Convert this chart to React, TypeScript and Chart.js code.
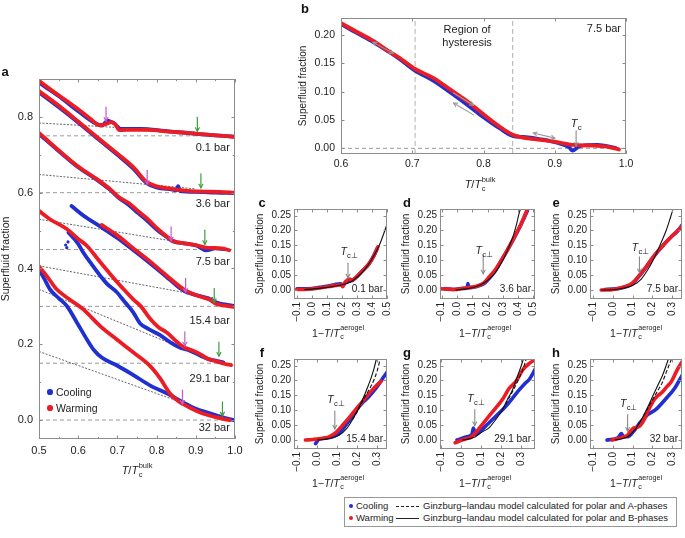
import React, { useEffect, useRef } from 'react';
import { Chart, registerables } from 'chart.js';
Chart.register(...registerables);

type P = [number, number][];
const FONT = "'Liberation Sans', Arial, Helvetica, sans-serif";
const RED = '#ec1c24';
const BLUE = '#1f2fd0';
const INK = '#222';

// ---------------- Panel a data ----------------
const aXTicks = [0.5, 0.55, 0.6, 0.65, 0.7, 0.75, 0.8, 0.85, 0.9, 0.95, 1.0];
const aXLabels = ['0.5', '', '0.6', '', '0.7', '', '0.8', '', '0.9', '', '1.0'];
const aYTicks = [0, 0.1, 0.2, 0.3, 0.4, 0.5, 0.6, 0.7, 0.8];
const aYLabels = ['0.0', '', '0.2', '', '0.4', '', '0.6', '', '0.8'];
const aPressures = ['0.1 bar', '3.6 bar', '7.5 bar', '15.4 bar', '29.1 bar', '32 bar'];
const aBaselines = [0.75, 0.6, 0.45, 0.3, 0.15, 0.0];
const aLabelY = [0.718, 0.57, 0.418, 0.261, 0.108, -0.021];
const aGreenX = [0.904, 0.913, 0.923, 0.947, 0.959, 0.968];
const aGreenY = [0.762, 0.613, 0.464, 0.31, 0.169, 0.011];
const aPurpleX = [0.671, 0.776, 0.837, 0.874, 0.872, 0.866];
const aPurpleY = [0.789, 0.622, 0.473, 0.337, 0.196, 0.042];
const aGuides: P[] = [
  [[0.5, 0.784], [0.9, 0.76]],
  [[0.5, 0.648], [0.9, 0.61]],
  [[0.5, 0.53], [0.92, 0.459]],
  [[0.5, 0.407], [0.95, 0.3215]],
  [[0.5, 0.345], [0.93, 0.162]],
  [[0.5, 0.181], [0.96, 0.011]],
];
const a01Warming: P = [[0.5, 0.895], [0.53, 0.872], [0.56, 0.85], [0.6, 0.82], [0.63, 0.796], [0.655, 0.778], [0.67, 0.781], [0.685, 0.786], [0.695, 0.78], [0.705, 0.765], [0.74, 0.766], [0.78, 0.766], [0.83, 0.761], [0.88, 0.758], [0.93, 0.753], [0.97, 0.75], [1.0, 0.747]];
const a01Cooling: P = [[0.5, 0.89], [0.55, 0.855], [0.6, 0.815], [0.64, 0.785], [0.66, 0.777], [0.675, 0.79], [0.69, 0.784], [0.71, 0.768], [0.76, 0.768], [0.82, 0.763], [0.88, 0.757], [0.94, 0.752], [1.0, 0.748]];
const a36Warming: P = [[0.5, 0.868], [0.55, 0.83], [0.6, 0.788], [0.65, 0.745], [0.7, 0.703], [0.74, 0.668], [0.775, 0.628], [0.8, 0.617], [0.84, 0.61], [0.88, 0.605], [0.92, 0.603], [0.96, 0.602], [1.0, 0.6]];
const a36Cooling: P = [[0.5, 0.865], [0.55, 0.826], [0.6, 0.785], [0.65, 0.742], [0.7, 0.7], [0.74, 0.664], [0.775, 0.625], [0.8, 0.614], [0.84, 0.608], [0.85, 0.606], [0.855, 0.617], [0.86, 0.604], [0.9, 0.602], [0.95, 0.6], [1.0, 0.599]];
const a75Warming: P = [[0.5, 0.758], [0.55, 0.712], [0.6, 0.669], [0.646, 0.637], [0.683, 0.608], [0.704, 0.588], [0.73, 0.572], [0.753, 0.551], [0.777, 0.531], [0.8, 0.507], [0.823, 0.487], [0.841, 0.473], [0.856, 0.469], [0.88, 0.465], [0.903, 0.461], [0.926, 0.455], [0.95, 0.454], [0.973, 0.452], [0.985, 0.448]];
const a75Cooling: P = [[0.5, 0.755], [0.55, 0.71], [0.6, 0.667], [0.646, 0.635], [0.683, 0.606], [0.704, 0.586], [0.73, 0.567], [0.753, 0.546], [0.777, 0.525], [0.8, 0.503], [0.823, 0.485], [0.841, 0.472], [0.856, 0.468], [0.88, 0.465], [0.903, 0.46], [0.926, 0.448], [0.95, 0.453], [0.973, 0.451]];
const a154Warming: P = [[0.66, 0.515], [0.699, 0.488], [0.741, 0.453], [0.784, 0.418], [0.826, 0.381], [0.872, 0.343], [0.89, 0.334], [0.911, 0.326], [0.935, 0.318], [0.953, 0.306], [0.975, 0.302], [1.0, 0.298]];
const a154Cooling: P = [[0.583, 0.565], [0.613, 0.54], [0.656, 0.511], [0.699, 0.481], [0.741, 0.448], [0.784, 0.413], [0.826, 0.377], [0.85, 0.356], [0.872, 0.34], [0.89, 0.333], [0.911, 0.327], [0.93, 0.322], [0.953, 0.31], [0.975, 0.305], [0.996, 0.301]];
const a291Warming: P = [[0.5, 0.552], [0.528, 0.53], [0.571, 0.504], [0.6, 0.478], [0.622, 0.46], [0.656, 0.417], [0.682, 0.385], [0.716, 0.345], [0.741, 0.318], [0.76, 0.3], [0.783, 0.268], [0.805, 0.245], [0.826, 0.231], [0.85, 0.208], [0.868, 0.193], [0.89, 0.184], [0.911, 0.174], [0.93, 0.162], [0.953, 0.155], [0.975, 0.148], [0.99, 0.145]];
const a291Cooling: P = [[0.575, 0.495], [0.6, 0.465], [0.613, 0.442], [0.635, 0.41], [0.656, 0.381], [0.673, 0.36], [0.698, 0.338], [0.72, 0.31], [0.74, 0.285], [0.758, 0.255], [0.78, 0.24], [0.809, 0.224], [0.835, 0.205], [0.86, 0.191], [0.885, 0.183], [0.911, 0.17], [0.935, 0.16], [0.953, 0.156], [0.97, 0.152]];
const a291CoolingStray: P = [[0.568, 0.462], [0.571, 0.455], [0.574, 0.47]];
const a32Warming: P = [[0.5, 0.405], [0.52, 0.38], [0.545, 0.345], [0.58, 0.317], [0.613, 0.292], [0.656, 0.248], [0.698, 0.213], [0.741, 0.178], [0.783, 0.143], [0.809, 0.11], [0.834, 0.07], [0.855, 0.05], [0.868, 0.042], [0.89, 0.03], [0.911, 0.02], [0.935, 0.012], [0.953, 0.007], [0.975, 0.002], [0.987, 0.0]];
const a32Cooling: P = [[0.5, 0.398], [0.515, 0.37], [0.528, 0.345], [0.55, 0.322], [0.571, 0.301], [0.597, 0.257], [0.622, 0.213], [0.64, 0.185], [0.66, 0.165], [0.699, 0.144], [0.742, 0.118], [0.784, 0.091], [0.827, 0.07], [0.869, 0.046], [0.9, 0.03], [0.93, 0.02], [0.954, 0.012], [0.975, 0.005], [0.996, 0.0]];

// ---------------- Panel b data ----------------
const bXTicks = [0.6, 0.7, 0.8, 0.9, 1.0];
const bXLabels = ['0.6', '0.7', '0.8', '0.9', '1.0'];
const bYTicks = [0, 0.05, 0.1, 0.15, 0.2];
const bYLabels = ['0.00', '0.05', '0.10', '0.15', '0.20'];
const bHysteresis = [0.704, 0.841];
const bWarming: P = [[0.6, 0.221], [0.62, 0.207], [0.646, 0.189], [0.665, 0.173], [0.683, 0.159], [0.704, 0.14], [0.73, 0.124], [0.753, 0.104], [0.777, 0.083], [0.8, 0.06], [0.823, 0.038], [0.841, 0.024], [0.856, 0.019], [0.88, 0.015], [0.903, 0.011], [0.926, 0.006], [0.95, 0.005], [0.973, 0.003], [0.99, -0.002]];
const bCooling: P = [[0.602, 0.218], [0.62, 0.205], [0.646, 0.187], [0.665, 0.172], [0.683, 0.157], [0.704, 0.137], [0.73, 0.119], [0.753, 0.099], [0.777, 0.077], [0.8, 0.055], [0.823, 0.035], [0.841, 0.022], [0.856, 0.02], [0.88, 0.016], [0.903, 0.01], [0.92, 0.002], [0.925, -0.004], [0.935, 0.004], [0.96, 0.006], [0.985, 0.001]];
// double arrows: x1, y1, x2, y2, headAtStart, headAtEnd
const bArrows: [number, number, number, number, boolean, boolean][] = [
  [0.645, 0.187, 0.673, 0.168, true, true],
  [0.758, 0.0975, 0.786, 0.076, false, true],
  [0.758, 0.08, 0.786, 0.059, true, false],
  [0.87, 0.027, 0.9, 0.018, true, true],
];

// ---------------- Panels c–h data ----------------
const sYTicks = [0, 0.05, 0.1, 0.15, 0.2, 0.25];
const sYLabels = ['0.00', '0.05', '0.10', '0.15', '0.20', '0.25'];
const wideXTicks = [-0.1, 0, 0.1, 0.2, 0.3, 0.4, 0.5];
const wideXLabels = ['\u22120.1', '0.0', '0.1', '0.2', '0.3', '0.4', '0.5'];
const narrowXTicks = [-0.1, 0, 0.1, 0.2, 0.3];
const narrowXLabels = ['\u22120.1', '0.0', '0.1', '0.2', '0.3'];

const cWarming: P = [[-0.1, 0.002], [-0.05, 0.002], [0.0, 0.004], [0.05, 0.007], [0.1, 0.011], [0.156, 0.015], [0.196, 0.018], [0.205, 0.011], [0.215, 0.022], [0.235, 0.033], [0.25, 0.037], [0.267, 0.034], [0.296, 0.044], [0.333, 0.063], [0.378, 0.087], [0.411, 0.113], [0.44, 0.145]];
const cCooling: P = [[-0.1, 0.004], [-0.05, 0.004], [0.0, 0.005], [0.05, 0.009], [0.1, 0.013], [0.15, 0.018], [0.19, 0.021], [0.21, 0.016], [0.22, 0.024], [0.245, 0.03], [0.267, 0.032], [0.3, 0.045], [0.335, 0.064], [0.38, 0.088], [0.41, 0.114], [0.435, 0.14]];
const cModelB: P = [[-0.05, 0.002], [0.0, 0.003], [0.1, 0.009], [0.2, 0.018], [0.25, 0.025], [0.3, 0.043], [0.35, 0.068], [0.4, 0.104], [0.45, 0.152], [0.5, 0.22]];

const dWarming: P = [[-0.1, 0.004], [-0.05, 0.003], [-0.012, 0.002], [0.03, 0.005], [0.072, 0.008], [0.121, 0.012], [0.176, 0.024], [0.209, 0.043], [0.253, 0.07], [0.286, 0.097], [0.33, 0.135], [0.375, 0.178], [0.419, 0.222], [0.456, 0.266]];
const dCooling: P = [[-0.08, 0.004], [-0.02, 0.002], [0.03, 0.005], [0.068, 0.007], [0.072, 0.022], [0.078, 0.008], [0.121, 0.011], [0.176, 0.021], [0.209, 0.038], [0.253, 0.066], [0.286, 0.095], [0.33, 0.134], [0.375, 0.176], [0.419, 0.22], [0.46, 0.265]];
const dModelB: P = [[-0.01, 0.0], [0.05, 0.003], [0.1, 0.008], [0.15, 0.016], [0.2, 0.032], [0.25, 0.058], [0.3, 0.1], [0.34, 0.145], [0.37, 0.185], [0.39, 0.222], [0.405, 0.255], [0.415, 0.272]];

const eWarming: P = [[-0.058, 0.0], [-0.03, 0.001], [0.0, 0.002], [0.03, 0.006], [0.06, 0.011], [0.1, 0.024], [0.135, 0.05], [0.169, 0.078], [0.203, 0.11], [0.245, 0.143], [0.287, 0.173], [0.329, 0.2], [0.35, 0.214]];
const eCooling: P = [[-0.04, 0.002], [0.0, 0.003], [0.04, 0.006], [0.08, 0.014], [0.1, 0.022], [0.135, 0.048], [0.169, 0.077], [0.203, 0.109], [0.245, 0.143], [0.29, 0.175], [0.33, 0.2], [0.35, 0.218]];
const eModelB: P = [[-0.058, 0.0], [0.0, 0.001], [0.05, 0.006], [0.1, 0.015], [0.144, 0.037], [0.177, 0.068], [0.2, 0.095], [0.228, 0.134], [0.25, 0.168], [0.27, 0.2], [0.29, 0.24], [0.305, 0.272]];

const fWarming: P = [[-0.058, 0.0], [-0.02, 0.002], [0.009, 0.004], [0.035, 0.007], [0.06, 0.011], [0.094, 0.025], [0.127, 0.049], [0.161, 0.075], [0.195, 0.104], [0.228, 0.13], [0.255, 0.152], [0.279, 0.17], [0.3, 0.185], [0.321, 0.198]];
const fCooling: P = [[-0.007, -0.012], [0.009, 0.002], [0.04, 0.006], [0.077, 0.011], [0.11, 0.022], [0.144, 0.05], [0.178, 0.08], [0.211, 0.113], [0.235, 0.13], [0.262, 0.148], [0.29, 0.17], [0.312, 0.19], [0.335, 0.213], [0.351, 0.228]];
const fModelB: P = [[0.0, 0.0], [0.05, 0.004], [0.11, 0.016], [0.15, 0.04], [0.178, 0.069], [0.205, 0.103], [0.228, 0.136], [0.25, 0.172], [0.27, 0.208], [0.285, 0.24], [0.297, 0.272]];
const fModelA: P = [[0.178, 0.069], [0.205, 0.1], [0.228, 0.13], [0.255, 0.163], [0.279, 0.193], [0.3, 0.23], [0.316, 0.272]];

const gWarming: P = [[-0.029, -0.009], [-0.01, -0.004], [0.005, 0.0], [0.03, 0.005], [0.047, 0.008], [0.072, 0.024], [0.106, 0.052], [0.14, 0.08], [0.174, 0.108], [0.207, 0.136], [0.241, 0.174], [0.275, 0.197], [0.309, 0.236], [0.343, 0.258], [0.37, 0.27]];
const gCooling: P = [[-0.02, 0.0], [0.03, 0.011], [0.055, 0.02], [0.062, 0.04], [0.072, 0.019], [0.123, 0.047], [0.174, 0.08], [0.224, 0.113], [0.258, 0.141], [0.292, 0.169], [0.32, 0.19], [0.343, 0.205], [0.376, 0.245]];
const gModelB: P = [[0.005, 0.0], [0.04, 0.004], [0.072, 0.011], [0.1, 0.025], [0.14, 0.041], [0.175, 0.07], [0.207, 0.102], [0.235, 0.14], [0.258, 0.169], [0.28, 0.21], [0.3, 0.247], [0.312, 0.272]];
const gModelA: P = [[0.207, 0.102], [0.235, 0.135], [0.258, 0.163], [0.285, 0.2], [0.309, 0.236], [0.326, 0.272]];

const hWarming: P = [[-0.005, 0.0], [0.02, 0.004], [0.043, 0.008], [0.06, 0.012], [0.075, 0.016], [0.09, 0.03], [0.106, 0.041], [0.13, 0.044], [0.154, 0.063], [0.178, 0.097], [0.21, 0.136], [0.23, 0.15], [0.249, 0.16], [0.275, 0.18], [0.297, 0.197], [0.325, 0.235], [0.352, 0.265]];
const hCooling: P = [[-0.029, 0.0], [-0.01, 0.002], [0.011, 0.004], [0.03, 0.01], [0.043, 0.022], [0.055, 0.012], [0.075, 0.011], [0.106, 0.03], [0.138, 0.058], [0.178, 0.086], [0.217, 0.102], [0.265, 0.136], [0.313, 0.174], [0.352, 0.219]];
const hModelB: P = [[0.011, 0.0], [0.05, 0.005], [0.075, 0.011], [0.114, 0.036], [0.154, 0.08], [0.18, 0.115], [0.202, 0.147], [0.225, 0.18], [0.249, 0.213], [0.27, 0.25], [0.281, 0.272]];
const hModelA: P = [[0.154, 0.08], [0.18, 0.11], [0.202, 0.136], [0.225, 0.163], [0.249, 0.191], [0.275, 0.235], [0.297, 0.272]];

// Tc-perp arrows in c–h: x, tail y, tip y, label y
const smallPressures = ['0.1 bar', '3.6 bar', '7.5 bar', '15.4 bar', '29.1 bar', '32 bar'];
const tcPerp: [number, number, number, number][] = [
  [0.24, 0.09, 0.041, 0.129],
  [0.172, 0.118, 0.055, 0.134],
  [0.135, 0.112, 0.059, 0.143],
  [0.089, 0.097, 0.038, 0.136],
  [0.069, 0.102, 0.049, 0.141],
  [0.075, 0.086, 0.03, 0.124],
];

// ---------------- helpers ----------------
const pts = (p: P) => p.map(([x, y]) => ({ x, y }));
const curve = (p: P, color: string, order: number, width = 3.8) => ({
  data: pts(p), borderColor: color, backgroundColor: color, borderWidth: width, pointRadius: 0,
  cubicInterpolationMode: 'monotone', order, fill: false, borderCapStyle: 'round', borderJoinStyle: 'round',
});
const guide = (p: P, color: string, dash: number[], width: number, order: number) => ({
  data: pts(p), borderColor: color, borderWidth: width, borderDash: dash, pointRadius: 0, order, tension: 0, fill: false,
});
const stray = (p: P, color: string, order: number) => ({
  data: pts(p), borderColor: color, backgroundColor: color, showLine: false, pointRadius: 1.6, pointBorderWidth: 0, order,
});

function arrow(ctx: any, x1: number, y1: number, x2: number, y2: number, color: string, lw: number, head: number, atStart: boolean, atEnd: boolean) {
  ctx.save();
  ctx.strokeStyle = color; ctx.lineWidth = lw; ctx.lineCap = 'round';
  ctx.beginPath(); ctx.moveTo(x1, y1); ctx.lineTo(x2, y2); ctx.stroke();
  const heads: number[][] = [];
  if (atEnd) heads.push([x2, y2, x1, y1]);
  if (atStart) heads.push([x1, y1, x2, y2]);
  for (const [tx, ty, fx, fy] of heads) {
    const ang = Math.atan2(ty - fy, tx - fx);
    ctx.beginPath();
    ctx.moveTo(tx - head * Math.cos(ang - 0.5), ty - head * Math.sin(ang - 0.5));
    ctx.lineTo(tx, ty);
    ctx.lineTo(tx - head * Math.cos(ang + 0.5), ty - head * Math.sin(ang + 0.5));
    ctx.stroke();
  }
  ctx.restore();
}

function subLabel(ctx: any, cx: number, cy: number, main: string, sub: string, size: number, color: string) {
  ctx.save();
  ctx.fillStyle = color; ctx.textBaseline = 'alphabetic'; ctx.textAlign = 'left';
  const mf = `italic ${size}px ${FONT}`; const sf = `${size * 0.72}px ${FONT}`;
  ctx.font = mf; const w1 = ctx.measureText(main).width;
  ctx.font = sf; const w2 = ctx.measureText(sub).width;
  const x0 = cx - (w1 + w2) / 2; const base = cy + size * 0.35;
  ctx.font = mf; ctx.fillText(main, x0, base);
  ctx.font = sf; ctx.fillText(sub, x0 + w1 + 0.3, base + size * 0.28);
  ctx.restore();
}

function text(ctx: any, s: string, x: number, y: number, size: number, align: string) {
  ctx.save();
  ctx.fillStyle = INK; ctx.font = `${size}px ${FONT}`; ctx.textAlign = align; ctx.textBaseline = 'middle';
  ctx.fillText(s, x, y);
  ctx.restore();
}

interface Spec {
  key: string;
  box: [number, number, number, number];
  plot: [number, number, number, number];
  xr: [number, number]; yr: [number, number];
  xTicks: number[]; xLabels: string[]; yTicks: number[]; yLabels: string[];
  rotate: boolean; tickFont: number; titleFont: number; titlePad: number; xPad: number; yPad: number;
  datasets: any[];
  annotate: (ctx: any, X: (v: number) => number, Y: (v: number) => number, a: any) => void;
}

function buildConfig(s: Spec): any {
  const [cl, ct, cw, ch] = s.box;
  const [pl, pt, pr, pb] = s.plot;
  const yW = pl - cl, xH = ct + ch - pb, padTop = pt - ct, padRight = cl + cw - pr;
  const rot = s.rotate ? 90 : 0;
  const zeroPad = (sc: any) => { sc.paddingLeft = 0; sc.paddingRight = 0; sc.paddingTop = 0; sc.paddingBottom = 0; };
  return {
    type: 'line',
    data: { datasets: s.datasets },
    options: {
      animation: false, responsive: false, maintainAspectRatio: false, devicePixelRatio: 1, events: [],
      layout: { padding: { left: 0, top: padTop, right: padRight, bottom: 0 } },
      plugins: { legend: { display: false }, tooltip: { enabled: false }, title: { display: false } },
      scales: {
        x: {
          type: 'linear', position: 'bottom', min: s.xr[0], max: s.xr[1],
          grid: { display: false, drawTicks: false, tickLength: 0 }, border: { display: false },
          ticks: { autoSkip: false, padding: s.xPad, minRotation: rot, maxRotation: rot, color: INK, font: { family: FONT, size: s.tickFont }, callback: (_v: any, i: number) => s.xLabels[i] },
          afterBuildTicks: (sc: any) => { sc.ticks = s.xTicks.map((v) => ({ value: v })); },
          afterFit: (sc: any) => { sc.height = xH; zeroPad(sc); },
        },
        y: {
          type: 'linear', position: 'left', min: s.yr[0], max: s.yr[1],
          grid: { display: false, drawTicks: false, tickLength: 0 }, border: { display: false },
          ticks: { autoSkip: false, padding: s.yPad, color: INK, font: { family: FONT, size: s.tickFont }, callback: (_v: any, i: number) => s.yLabels[i] },
          title: { display: true, text: 'Superfluid fraction', color: INK, font: { family: FONT, size: s.titleFont }, padding: { top: s.titlePad, bottom: 0 } },
          afterBuildTicks: (sc: any) => { sc.ticks = s.yTicks.map((v) => ({ value: v })); },
          afterFit: (sc: any) => { sc.width = yW; zeroPad(sc); },
        },
      },
    },
    plugins: [{
      id: 'frame_' + s.key,
      afterDatasetsDraw(chart: any) {
        const { ctx, chartArea: a, scales } = chart;
        const X = (v: number) => scales.x.getPixelForValue(v);
        const Y = (v: number) => scales.y.getPixelForValue(v);
        ctx.save();
        s.annotate(ctx, X, Y, a);
        ctx.strokeStyle = '#8c8c8c'; ctx.lineWidth = 1;
        ctx.strokeRect(a.left + 0.5, a.top + 0.5, a.right - a.left - 1, a.bottom - a.top - 1);
        ctx.beginPath();
        s.xTicks.forEach((v, i) => {
          const len = s.xLabels[i] ? 3.5 : 2.2; const px = Math.round(X(v)) + 0.5;
          ctx.moveTo(px, a.bottom); ctx.lineTo(px, a.bottom - len);
          ctx.moveTo(px, a.top); ctx.lineTo(px, a.top + len);
        });
        s.yTicks.forEach((v, i) => {
          const len = s.yLabels[i] ? 3.5 : 2.2; const py = Math.round(Y(v)) + 0.5;
          ctx.moveTo(a.left, py); ctx.lineTo(a.left + len, py);
          ctx.moveTo(a.right, py); ctx.lineTo(a.right - len, py);
        });
        ctx.stroke();
        ctx.restore();
      },
    }],
  };
}

// ---------------- panel specs ----------------
const GRAY_DASH = '#9a9a9a';

const specA: Spec = {
  key: 'a', box: [0, 60, 245, 430], plot: [39, 79, 235, 439], xr: [0.5, 1.0], yr: [-0.05, 0.9],
  xTicks: aXTicks, xLabels: aXLabels, yTicks: aYTicks, yLabels: aYLabels,
  rotate: false, tickFont: 11, titleFont: 10.5, titlePad: 0, xPad: 5, yPad: 6,
  datasets: [
    ...aBaselines.map((b) => guide([[0.5, b], [1.0, b]], GRAY_DASH, [4, 3], 1, 6)),
    ...aGuides.map((g) => guide(g, '#555', [2, 1.5], 0.9, 5)),
    curve(a01Warming, RED, 1), curve(a01Cooling, BLUE, 2),
    curve(a36Warming, RED, 1), curve(a36Cooling, BLUE, 2),
    curve(a75Warming, RED, 1), curve(a75Cooling, BLUE, 2),
    curve(a154Warming, RED, 1), curve(a154Cooling, BLUE, 2),
    curve(a291Warming, RED, 1), curve(a291Cooling, BLUE, 2), stray(a291CoolingStray, BLUE, 2),
    curve(a32Warming, RED, 1), curve(a32Cooling, BLUE, 2),
  ],
  annotate: (ctx, X, Y) => {
    aGreenX.forEach((x, i) => arrow(ctx, X(x), Y(aGreenY[i]) - 14, X(x), Y(aGreenY[i]), '#3d9e3d', 1.2, 4, false, true));
    aPurpleX.forEach((x, i) => arrow(ctx, X(x), Y(aPurpleY[i]) - 14, X(x), Y(aPurpleY[i]), '#c25bd0', 1.2, 4, false, true));
    aPressures.forEach((p, i) => text(ctx, p, X(0.987), Y(aLabelY[i]), 11, 'right'));
  },
};

const specB: Spec = {
  key: 'b', box: [290, 0, 395, 195], plot: [341, 18, 626, 154], xr: [0.6, 1.0], yr: [-0.01, 0.23],
  xTicks: bXTicks, xLabels: bXLabels, yTicks: bYTicks, yLabels: bYLabels,
  rotate: false, tickFont: 10.5, titleFont: 10, titlePad: 7, xPad: 4, yPad: 6,
  datasets: [
    guide([[0.6, 0], [1.0, 0]], GRAY_DASH, [4, 3], 1, 6),
    ...bHysteresis.map((x) => guide([[x, -0.01], [x, 0.23]], '#b0b0b0', [5, 3], 1, 6)),
    curve(bWarming, RED, 1, 3.8), curve(bCooling, BLUE, 2, 3.8),
  ],
  annotate: (ctx, X, Y) => {
    text(ctx, 'Region of', X(0.777), Y(0.209), 11, 'center');
    text(ctx, 'hysteresis', X(0.777), Y(0.186), 11, 'center');
    text(ctx, '7.5 bar', X(0.969), Y(0.21), 11, 'center');
    bArrows.forEach(([x1, y1, x2, y2, s, e]) => arrow(ctx, X(x1), Y(y1), X(x2), Y(y2), '#9a9a9a', 1.1, 4, s, e));
    arrow(ctx, X(0.93), Y(0.031), X(0.93), Y(0.004), '#8a8a8a', 1.1, 4, false, true);
    subLabel(ctx, X(0.93), Y(0.045), 'T', 'c', 11, INK);
  },
};

function smallSpec(key: string, col: number, row: number, xr: [number, number], wide: boolean, idx: number, warm: P, cool: P, modelB: P, modelA: P | null): Spec {
  const lefts = [253, 399, 549];
  const plotL = [294, 440, 590];
  const plotR = [387, 535, 682];
  const rights = [390, 539, 685];
  const top = row === 0 ? 200 : 350;
  const [tx, tTail, tTip, tLab] = tcPerp[idx];
  const ds: any[] = [curve(warm, RED, 1, 3.6), curve(cool, BLUE, 2, 3.6), guide(modelB, '#111', [], 1.1, 0)];
  if (modelA) ds.push(guide(modelA, '#111', [4, 2], 1.1, 0));
  ds.forEach((d) => { if (d.order === 0) d.cubicInterpolationMode = 'monotone'; });
  return {
    key, box: [lefts[col], top, rights[col] - lefts[col], 130], plot: [plotL[col], top + 9, plotR[col], top + 99],
    xr, yr: [-0.03, 0.272],
    xTicks: wide ? wideXTicks : narrowXTicks, xLabels: wide ? wideXLabels : narrowXLabels,
    yTicks: sYTicks, yLabels: sYLabels,
    rotate: true, tickFont: 10, titleFont: 10, titlePad: 1, xPad: 3, yPad: 3,
    datasets: ds,
    annotate: (ctx, X, Y, a) => {
      arrow(ctx, X(tx), Y(tTail), X(tx), Y(tTip), '#8a8a8a', 1.1, 4, false, true);
      subLabel(ctx, X(tx) + 1, Y(tLab), 'T', 'c\u22a5', 10.5, INK);
      text(ctx, smallPressures[idx], a.right - 4, Y(0.003), 10, 'right');
    },
  };
}

const specC = smallSpec('c', 0, 0, [-0.12, 0.5], true, 0, cWarming, cCooling, cModelB, null);
const specD = smallSpec('d', 1, 0, [-0.11, 0.51], true, 1, dWarming, dCooling, dModelB, null);
const specE = smallSpec('e', 2, 0, [-0.115, 0.35], false, 2, eWarming, eCooling, eModelB, null);
const specF = smallSpec('f', 0, 1, [-0.115, 0.35], false, 3, fWarming, fCooling, fModelB, fModelA);
const specG = smallSpec('g', 1, 1, [-0.105, 0.37], false, 4, gWarming, gCooling, gModelB, gModelA);
const specH = smallSpec('h', 2, 1, [-0.115, 0.35], false, 5, hWarming, hCooling, hModelB, hModelA);

// ---------------- components ----------------
function Panel({ spec }: { spec: Spec }) {
  const ref = useRef<HTMLCanvasElement>(null);
  useEffect(() => {
    const chart = new Chart(ref.current as HTMLCanvasElement, buildConfig(spec));
    return () => chart.destroy();
  }, []);
  const [l, t, w, h] = spec.box;
  return <canvas ref={ref} width={w} height={h} style={{ position: 'absolute', left: l, top: t, width: w, height: h }} />;
}

function XTitle({ cx, cy, prefix, sup, size = 10.5 }: { cx: number; cy: number; prefix: string; sup: string; size?: number }) {
  return (
    <div style={{ position: 'absolute', left: cx, top: cy, transform: 'translate(-50%, -50%)', fontFamily: FONT, fontSize: size, color: INK, whiteSpace: 'nowrap', display: 'flex', alignItems: 'center', lineHeight: 1 }}>
      <span>{prefix}<i>T</i>/<i>T</i></span>
      <span style={{ display: 'inline-flex', flexDirection: 'column', fontSize: size * 0.68, lineHeight: '7px', marginLeft: 0.5 }}>
        <span>{sup}</span>
        <span style={{ marginTop: 2 }}>c</span>
      </span>
    </div>
  );
}

function Letter({ x, y, s }: { x: number; y: number; s: string }) {
  return <div style={{ position: 'absolute', left: x, top: y, transform: 'translate(-50%, -50%)', fontFamily: FONT, fontWeight: 'bold', fontSize: 13, lineHeight: 1, color: '#111' }}>{s}</div>;
}

function Dot({ x, y, color, r = 2.5 }: { x: number; y: number; color: string; r?: number }) {
  return <div style={{ position: 'absolute', left: x - r, top: y - r, width: 2 * r, height: 2 * r, borderRadius: r, background: color }} />;
}

function Txt({ x, y, s, size }: { x: number; y: number; s: string; size: number }) {
  return <div style={{ position: 'absolute', left: x, top: y - size * 0.6, fontFamily: FONT, fontSize: size, lineHeight: `${size * 1.2}px`, color: INK, whiteSpace: 'nowrap' }}>{s}</div>;
}

export default function App() {
  return (
    <div style={{ position: 'absolute', left: 0, top: 0, width: 685, height: 538, background: '#fff', overflow: 'hidden' }}>
      <Panel spec={specA} />
      <Panel spec={specB} />
      <Panel spec={specC} />
      <Panel spec={specD} />
      <Panel spec={specE} />
      <Panel spec={specF} />
      <Panel spec={specG} />
      <Panel spec={specH} />

      <Letter x={5} y={71} s="a" />
      <Letter x={305} y={8} s="b" />
      <Letter x={262} y={202} s="c" />
      <Letter x={407} y={202} s="d" />
      <Letter x={556} y={202} s="e" />
      <Letter x={262} y={352} s="f" />
      <Letter x={407} y={352} s="g" />
      <Letter x={556} y={352} s="h" />

      <XTitle cx={137} cy={470} prefix="" sup="bulk" size={11} />
      <XTitle cx={480} cy={184} prefix="" sup="bulk" size={11} />
      <XTitle cx={338} cy={333} prefix={'1\u2212'} sup="aerogel" />
      <XTitle cx={485} cy={333} prefix={'1\u2212'} sup="aerogel" />
      <XTitle cx={636} cy={333} prefix={'1\u2212'} sup="aerogel" />
      <XTitle cx={338} cy={483} prefix={'1\u2212'} sup="aerogel" />
      <XTitle cx={485} cy={483} prefix={'1\u2212'} sup="aerogel" />
      <XTitle cx={636} cy={483} prefix={'1\u2212'} sup="aerogel" />

      {/* panel a legend */}
      <Dot x={50} y={392} color={BLUE} r={2.8} />
      <Txt x={56} y={392} s="Cooling" size={10.5} />
      <Dot x={50} y={408} color={RED} r={2.8} />
      <Txt x={56} y={408} s="Warming" size={10.5} />

      {/* bottom legend */}
      <div style={{ position: 'absolute', left: 344, top: 497, width: 333, height: 30, border: '1px solid #999', boxSizing: 'border-box' }} />
      <Dot x={351} y={506} color={BLUE} r={2} />
      <Txt x={356} y={506} s="Cooling" size={9.5} />
      <div style={{ position: 'absolute', left: 396, top: 506, width: 23, borderTop: '1px dashed #222' }} />
      <Txt x={423} y={506} s={'Ginzburg\u2013landau model calculated for polar and A-phases'} size={9.5} />
      <Dot x={351} y={518} color={RED} r={2} />
      <Txt x={356} y={518} s="Warming" size={9.5} />
      <div style={{ position: 'absolute', left: 396, top: 518, width: 23, borderTop: '1px solid #222' }} />
      <Txt x={423} y={518} s={'Ginzburg\u2013landau model calculated for polar and B-phases'} size={9.5} />
    </div>
  );
}
